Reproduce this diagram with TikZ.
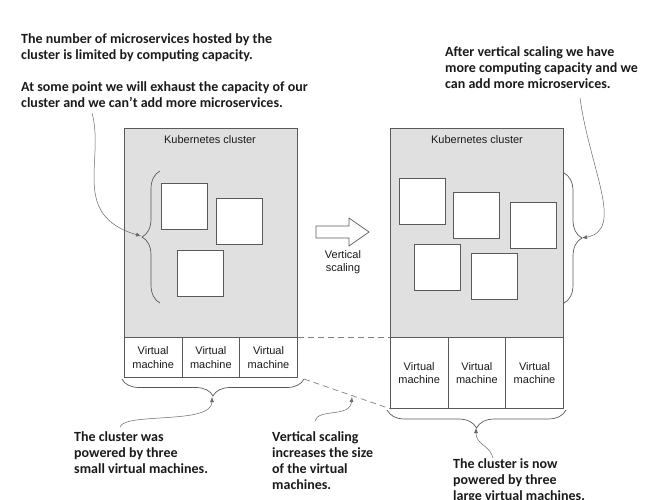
\documentclass[tikz,border=0pt]{standalone}
\usepackage{fontspec}
\setmainfont{Liberation Sans}
\newfontfamily\annfont{Carlito}
\usetikzlibrary{arrows.meta,decorations.pathreplacing}
\definecolor{boxgray}{HTML}{E0E0E0}
\definecolor{linegray}{HTML}{5A5A5A}
\definecolor{curvegray}{HTML}{666666}
\definecolor{txt}{HTML}{1A1A1A}
\tikzset{
  cluster/.style={draw=linegray, fill=boxgray, line width=0.7pt, anchor=north west, inner sep=0pt, minimum width=173pt, minimum height=209pt},
  vm/.style={draw=linegray, fill=white, line width=0.7pt, anchor=north west, inner sep=0pt, minimum width=57.67pt, align=center, font=\fontsize{11}{13.5}\selectfont, text=txt},
  svc/.style={draw=linegray, fill=white, line width=0.6pt, anchor=north west, inner sep=0pt, minimum width=46pt, minimum height=46pt},
  klabel/.style={font=\fontsize{11}{13.5}\selectfont, text=txt, inner sep=0pt},
  ann/.style={font=\annfont\bfseries\fontsize{14}{16}\selectfont, text=txt, align=left, anchor=north west, inner sep=0pt},
  brc/.style={draw=linegray, line width=0.7pt, decorate, decoration={brace, amplitude=#1}},
  callout/.style={draw=curvegray, line width=0.5pt, -{Latex[length=5pt,width=4pt]}},
  dashline/.style={draw=gray, line width=0.7pt, dash pattern=on 6pt off 4pt}
}
\begin{document}
\begin{tikzpicture}[x=1pt,y=-1pt]
\useasboundingbox (0,0) rectangle (663,499);
% left cluster
\node[cluster] (lk) at (124,128) {};
\node[klabel] (lkl) at (210,140) {Kubernetes cluster};
\node[vm, minimum height=40pt] (lv1) at (124,337) {Virtual\\machine};
\node[vm, minimum height=40pt] (lv2) at (181.67,337) {Virtual\\machine};
\node[vm, minimum height=40pt] (lv3) at (239.33,337) {Virtual\\machine};
\node[svc] (ls1) at (161,183) {};
\node[svc] (ls2) at (216,198) {};
\node[svc] (ls3) at (177,250) {};
% right cluster
\node[cluster] (rk) at (390,128) {};
\node[klabel] (rkl) at (477,140) {Kubernetes cluster};
\node[vm, minimum height=71pt] (rv1) at (390,337) {Virtual\\machine};
\node[vm, minimum height=71pt] (rv2) at (447.67,337) {Virtual\\machine};
\node[vm, minimum height=71pt] (rv3) at (505.33,337) {Virtual\\machine};
\node[svc] (rs1) at (399,178) {};
\node[svc] (rs2) at (453,192) {};
\node[svc] (rs3) at (510,202) {};
\node[svc] (rs4) at (414,244) {};
\node[svc] (rs5) at (471,253) {};
% block arrow
\coordinate (a1) at (316,226);
\coordinate (a2) at (349,226);
\coordinate (a3) at (349,218);
\coordinate (a4) at (369,232);
\coordinate (a5) at (349,246);
\coordinate (a6) at (349,238);
\coordinate (a7) at (316,238);
\draw[linegray, line width=0.7pt, fill=white] (a1) -- (a2) -- (a3) -- (a4) -- (a5) -- (a6) -- (a7) -- cycle;
\node[klabel, align=center] (vs) at (343,262) {Vertical\\scaling};
% braces
\coordinate (lb1) at (160,303);
\coordinate (lb2) at (160,171);
\draw[brc=18pt] (lb1) -- (lb2);
\coordinate (rb1) at (564,173);
\coordinate (rb2) at (564,303);
\draw[brc=18pt] (rb1) -- (rb2);
\coordinate (bl1) at (304,379);
\coordinate (bl2) at (122,379);
\draw[brc=17pt] (bl1) -- (bl2);
\coordinate (br1) at (566,410);
\coordinate (br2) at (387,410);
\draw[brc=18pt] (br1) -- (br2);
% brace tips
\coordinate (lbt) at (141,236);
\coordinate (rbt) at (582,238);
\coordinate (blt) at (212,397);
\coordinate (brt) at (476,428);
% dashed lines
\draw[dashline] (lk.south east) -- (rk.south west);
\draw[dashline] (bl1) -- (rv1.south west);
\coordinate (dmid) at (352,397);
% annotation texts
\node[ann] (t1) at (21,33.5) {The number of microservices hosted by the\\cluster is limited by computing capacity.\\[16pt]At some point we will exhaust the capacity of our\\cluster and we can’t add more microservices.};
\node[ann] (t2) at (445,46.5) {After vertical scaling we have\\more computing capacity and we\\can add more microservices.};
\node[ann] (t3) at (74,431.5) {The cluster was\\powered by three\\small virtual machines.};
\node[ann] (t4) at (272,431.5) {Vertical scaling\\increases the size\\of the virtual\\machines.};
\node[ann] (t5) at (453,458.5) {The cluster is now\\powered by three\\large virtual machines.};
% callouts
\coordinate (c1) at (92,113);
\coordinate (c2) at (580,98);
\coordinate (c3) at (120,427);
\coordinate (c4) at (315,421);
\coordinate (c5) at (493,458);
\draw[callout] (c1) .. controls (105,160) and (70,215) .. (lbt);
\draw[callout] (c2) .. controls (590,170) and (625,230) .. (rbt);
\draw[callout] (c3) .. controls (125,412) and (212,425) .. (blt);
\draw[callout] (c4) .. controls (318,408) and (350,418) .. (dmid);
\draw[callout] (c5) .. controls (490,445) and (476,445) .. (brt);
\end{tikzpicture}
\end{document}
